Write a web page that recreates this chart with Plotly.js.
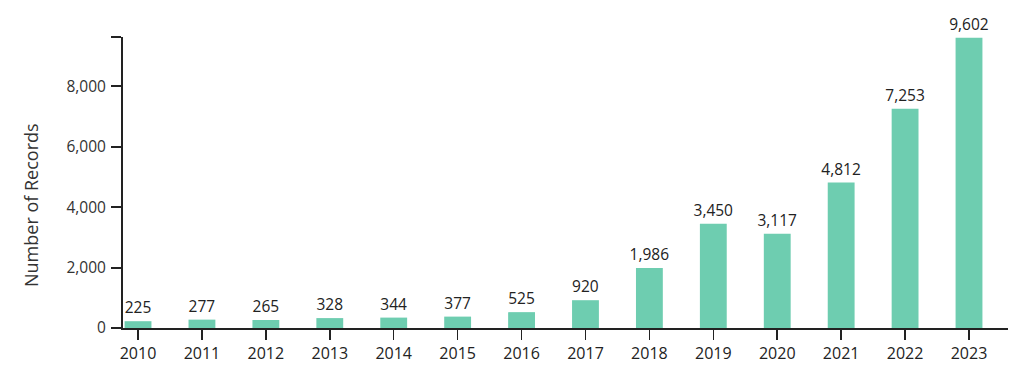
<!DOCTYPE html>
<html>
<head>
<meta charset="utf-8">
<script src="https://cdn.plot.ly/plotly-3.0.1.min.js"></script>
<style>html,body{margin:0;padding:0;background:#fff;}#chart{width:1024px;height:379px;}</style>
</head>
<body>
<div id="chart"></div>
<script>
var years = ['2010','2011','2012','2013','2014','2015','2016','2017','2018','2019','2020','2021','2022','2023'];
var records = [225, 277, 265, 328, 344, 377, 525, 920, 1986, 3450, 3117, 4812, 7253, 9602];
var yTickVals = [0, 2000, 4000, 6000, 8000, 9630];
var yTickText = ['0', '2,000', '4,000', '6,000', '8,000', ''];
var yTitle = 'Number of Records';

var trace = {
  type: 'bar',
  x: years,
  y: records,
  marker: {color: '#6ecdb0'},
  texttemplate: '%{y:,}',
  textposition: 'outside',
  constraintext: 'none',
  textfont: {family: 'Open Sans', size: 15.5, color: '#222'},
  cliponaxis: false,
  hoverinfo: 'none'
};

var layout = {
  width: 1024, height: 379,
  margin: {l: 123, r: 16, t: 37, b: 51, pad: 0},
  paper_bgcolor: '#fff', plot_bgcolor: '#fff',
  showlegend: false,
  bargap: 0.58,
  font: {family: 'Open Sans', color: '#222'},
  xaxis: {
    type: 'category',
    range: [-0.235, 13.61],
    showline: true, linecolor: '#222', linewidth: 2,
    ticks: 'outside', ticklen: 10, tickwidth: 1.5, tickcolor: '#222',
    tickfont: {family: 'Open Sans', size: 16, color: '#222'},
    showgrid: false, zeroline: false, fixedrange: true
  },
  yaxis: {
    range: [0, 9630],
    tickvals: yTickVals, ticktext: yTickText,
    showline: true, linecolor: '#222', linewidth: 2,
    ticks: 'outside', ticklen: 10, tickwidth: 2, tickcolor: '#222',
    tickfont: {family: 'Open Sans', size: 15.5, color: '#333'},
    ticklabelstandoff: 2,
    showgrid: false, zeroline: false, fixedrange: true
  },
  annotations: [{
    text: yTitle,
    xref: 'paper', yref: 'paper',
    x: 0, y: 0.4227, xshift: -92,
    xanchor: 'center', yanchor: 'middle',
    textangle: -90, showarrow: false,
    font: {family: 'Open Sans', size: 18, color: '#333'}
  }]
};

Plotly.newPlot('chart', [trace], layout, {displayModeBar: false, staticPlot: true});
</script>
</body>
</html>
